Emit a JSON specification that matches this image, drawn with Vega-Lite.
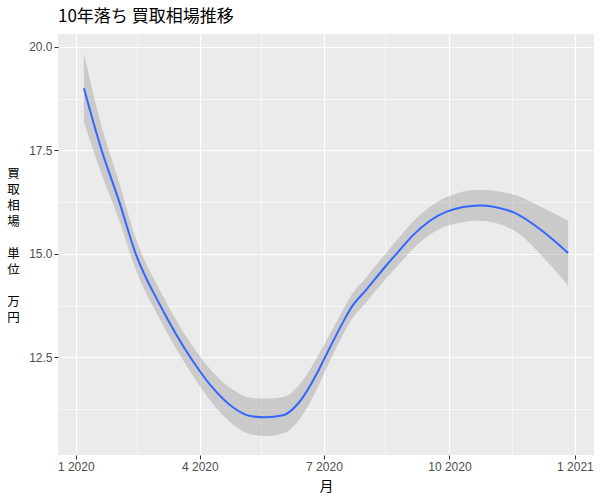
{
  "$schema": "https://vega.github.io/schema/vega-lite/v6.json",
  "width": 536,
  "height": 421,
  "autosize": "none",
  "padding": {"left": 58, "top": 34, "right": 6, "bottom": 45},
  "background": "white",
  "title": {
    "text": "10年落ち 買取相場推移",
    "anchor": "start",
    "frame": "group",
    "font": "Noto Sans CJK JP",
    "fontSize": 17,
    "fontWeight": "normal",
    "color": "black",
    "offset": 8
  },
  "config": {
    "view": {"fill": "#EBEBEB", "stroke": null},
    "axis": {
      "domain": false,
      "gridColor": "white",
      "tickColor": "#333333",
      "tickSize": 4,
      "tickWidth": 1,
      "labelColor": "#4D4D4D",
      "labelFont": "Liberation Sans",
      "labelFontSize": 12,
      "labelPadding": 2,
      "titleFont": "Noto Sans CJK JP",
      "titleFontSize": 14,
      "titleFontWeight": "normal",
      "titleColor": "black"
    }
  },
  "data": {
    "values": [
      {"date": "2020-01-07", "fit": 19.00, "lower": 18.18, "upper": 19.83},
      {"date": "2020-01-20", "fit": 17.50, "lower": 16.92, "upper": 18.08},
      {"date": "2020-02-02", "fit": 16.25, "lower": 15.80, "upper": 16.70},
      {"date": "2020-02-14", "fit": 15.00, "lower": 14.62, "upper": 15.38},
      {"date": "2020-03-03", "fit": 13.75, "lower": 13.40, "upper": 14.10},
      {"date": "2020-03-25", "fit": 12.50, "lower": 12.15, "upper": 12.85},
      {"date": "2020-04-10", "fit": 11.78, "lower": 11.40, "upper": 12.16},
      {"date": "2020-04-25", "fit": 11.30, "lower": 10.88, "upper": 11.72},
      {"date": "2020-05-08", "fit": 11.08, "lower": 10.64, "upper": 11.52},
      {"date": "2020-05-19", "fit": 11.05, "lower": 10.60, "upper": 11.50},
      {"date": "2020-06-01", "fit": 11.10, "lower": 10.66, "upper": 11.54},
      {"date": "2020-06-13", "fit": 11.42, "lower": 11.00, "upper": 11.84},
      {"date": "2020-06-26", "fit": 12.12, "lower": 11.74, "upper": 12.50},
      {"date": "2020-07-01", "fit": 12.45, "lower": 12.10, "upper": 12.80},
      {"date": "2020-07-15", "fit": 13.35, "lower": 13.05, "upper": 13.65},
      {"date": "2020-07-21", "fit": 13.70, "lower": 13.40, "upper": 14.00},
      {"date": "2020-08-01", "fit": 14.13, "lower": 13.83, "upper": 14.43},
      {"date": "2020-08-16", "fit": 14.73, "lower": 14.42, "upper": 15.04},
      {"date": "2020-08-24", "fit": 15.03, "lower": 14.71, "upper": 15.35},
      {"date": "2020-09-04", "fit": 15.44, "lower": 15.11, "upper": 15.77},
      {"date": "2020-09-29", "fit": 16.02, "lower": 15.67, "upper": 16.37},
      {"date": "2020-10-23", "fit": 16.17, "lower": 15.80, "upper": 16.55},
      {"date": "2020-11-17", "fit": 16.00, "lower": 15.57, "upper": 16.43},
      {"date": "2020-12-12", "fit": 15.45, "lower": 14.80, "upper": 16.05},
      {"date": "2020-12-27", "fit": 15.02, "lower": 14.23, "upper": 15.80}
    ]
  },
  "layer": [
    {
      "mark": {"type": "area", "color": "#999999", "opacity": 0.4, "interpolate": "monotone"},
      "encoding": {
        "x": {
          "field": "date", "type": "temporal",
          "scale": {"type": "utc", "domain": [{"year": 2019, "month": 12, "date": 19, "utc": true}, {"year": 2021, "month": 1, "date": 15, "utc": true}]},
          "axis": {
            "orient": "bottom",
            "values": [
              {"year": 2020, "month": 2, "date": 15, "utc": true},
              {"year": 2020, "month": 5, "date": 16, "utc": true},
              {"year": 2020, "month": 8, "date": 15, "utc": true},
              {"year": 2020, "month": 11, "date": 16, "utc": true}
            ],
            "grid": true, "gridWidth": 0.6, "labels": false, "ticks": false, "title": null
          }
        },
        "y": {
          "field": "lower", "type": "quantitative",
          "scale": {"domain": [10.14, 20.31], "nice": false, "zero": false},
          "axis": {"orient": "left", "values": [11.25, 13.75, 16.25, 18.75], "grid": true, "gridWidth": 0.6, "labels": false, "ticks": false, "title": null}
        },
        "y2": {"field": "upper"}
      }
    },
    {
      "mark": {"type": "line", "color": "#3366FF", "strokeWidth": 2, "interpolate": "monotone"},
      "encoding": {
        "x": {
          "field": "date", "type": "temporal",
          "axis": {
            "orient": "bottom",
            "values": [
              {"year": 2020, "month": 1, "date": 1, "utc": true},
              {"year": 2020, "month": 4, "date": 1, "utc": true},
              {"year": 2020, "month": 7, "date": 1, "utc": true},
              {"year": 2020, "month": 10, "date": 1, "utc": true},
              {"year": 2021, "month": 1, "date": 1, "utc": true}
            ],
            "labelExpr": "utcFormat(datum.value, '%-m %Y')",
            "grid": true, "gridWidth": 1.2,
            "title": "月", "titlePadding": 7
          }
        },
        "y": {
          "field": "fit", "type": "quantitative",
          "axis": {
            "orient": "left",
            "values": [12.5, 15, 17.5, 20],
            "format": ".1f",
            "grid": true, "gridWidth": 1.2,
            "title": ["買", "取", "相", "場", "\u200b", "単", "位", "\u200b", "万", "円"],
            "titleFontSize": 12.5,
            "titleAngle": 0, "titleAlign": "center", "titleBaseline": "middle",
            "titleX": -45, "titleY": 139, "titleLineHeight": 16.1
          }
        }
      }
    }
  ],
  "resolve": {"axis": {"x": "independent", "y": "independent"}}
}
